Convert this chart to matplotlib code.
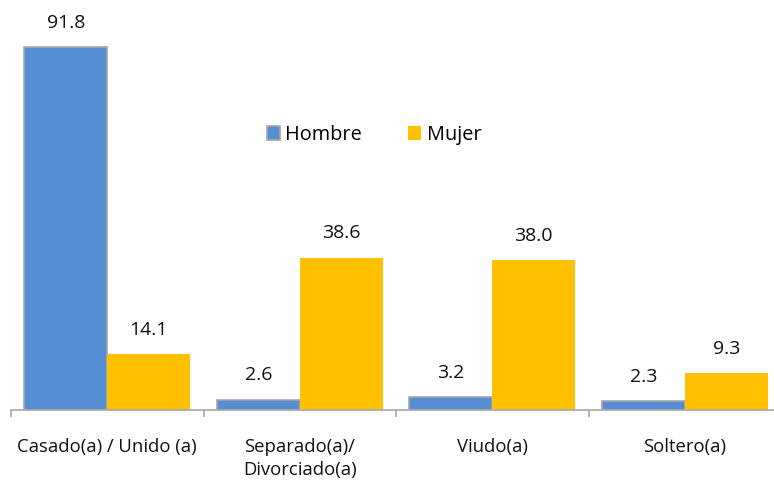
import matplotlib
matplotlib.use("Agg")
import matplotlib.pyplot as plt
import numpy as np

categories = ["Casado(a) / Unido (a)", "Separado(a)/\nDivorciado(a)", "Viudo(a)", "Soltero(a)"]
hombre = [91.8, 2.6, 3.2, 2.3]
mujer = [14.1, 38.6, 38.0, 9.3]

plt.rcParams['font.family'] = ['Open Sans', 'DejaVu Sans']

W, H = 774, 483
fig = plt.figure(figsize=(W/100, H/100), dpi=100)
left, right, top, bottom = 11, 781, 15, 410
ax = fig.add_axes([left/W, 1 - bottom/H, (right-left)/W, (bottom-top)/H])

x = np.arange(len(categories))
bw = 0.431
b1 = ax.bar(x - bw/2, hombre, bw, color="#558ED5", edgecolor="#A6A6A6", linewidth=1.2, label="Hombre")
b2 = ax.bar(x + bw/2, mujer, bw, color="#FFC000", edgecolor="none", label="Mujer")

for rect, v in list(zip(b1, hombre)) + list(zip(b2, mujer)):
    ax.annotate(f"{v:.1f}", (rect.get_x() + rect.get_width()/2, v), xytext=(0, 17.5),
                textcoords="offset points", ha="center", va="center", fontsize=14, color="#111111")

ax.set_xlim(-0.5, len(categories) - 0.5)
ax.set_ylim(0, 100)
ax.set_yticks([])
for s in ["top", "right", "left"]:
    ax.spines[s].set_visible(False)
ax.spines["bottom"].set_color("#A6A6A6")
ax.spines["bottom"].set_linewidth(1.2)

ax.set_xticks(np.arange(-0.5, len(categories)), minor=False)
ax.set_xticklabels([])
ax.tick_params(axis="x", which="major", length=5, color="#A6A6A6", width=1.2, direction="out")
ax.set_xticks(x, minor=True)
ax.set_xticklabels(categories, minor=True, fontsize=13.3, color="#111111", va="top", linespacing=1.3)
ax.tick_params(axis="x", which="minor", length=0, pad=20.5)

leg = ax.legend(loc="center", bbox_to_anchor=((374-left)/(right-left), (bottom-135)/(bottom-top)),
                ncol=2, frameon=False, fontsize=14.3, handlelength=0.65, handleheight=0.65,
                handletextpad=0.3, columnspacing=2.3)

fig.savefig("out.png", dpi=100)
